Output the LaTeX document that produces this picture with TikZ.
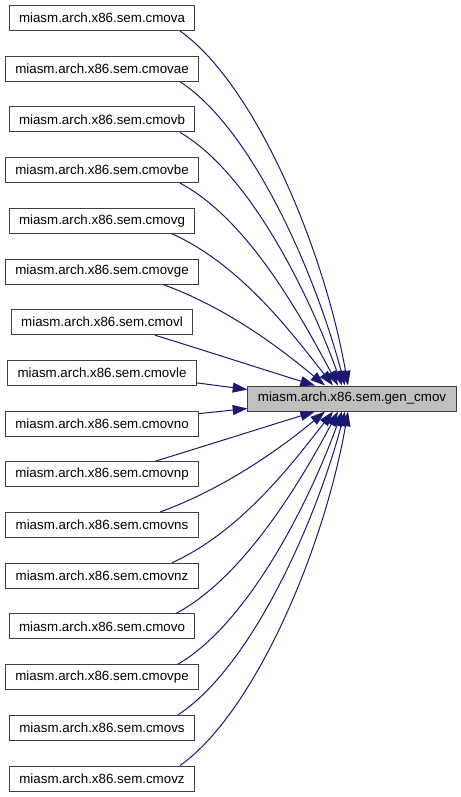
\documentclass[tikz,border=0pt]{standalone}
\usepackage{fontspec}
\setmainfont{Liberation Sans}
\usetikzlibrary{arrows.meta,calc}
\definecolor{edgeblue}{RGB}{25,25,112}
\definecolor{nodegray}{RGB}{191,191,191}
\begin{document}
\begin{tikzpicture}[x=0.75pt,y=-0.75pt,
  fn/.style={draw=black!75,line width=0.75pt,minimum height=18.75pt,inner xsep=7.5pt,inner ysep=0pt},
  root/.style={fn,fill=nodegray},
  call/.style={draw=edgeblue,line width=0.75pt,-{Triangle[length=11pt,width=7.5pt]}}]
\useasboundingbox (0,0) rectangle (461,797);
% Parameters
\def\colX{102};

% Callee
\node[root] (gencmov) at (352,398.5) {miasm.arch.x86.sem.gen\_cmov};

% Callers
\node[fn] (cmova) at (\colX,18) {miasm.arch.x86.sem.cmova};
\node[fn] (cmovae) at (\colX,68.7) {miasm.arch.x86.sem.cmovae};
\node[fn] (cmovb) at (\colX,119.4) {miasm.arch.x86.sem.cmovb};
\node[fn] (cmovbe) at (\colX,170.1) {miasm.arch.x86.sem.cmovbe};
\node[fn] (cmovg) at (\colX,220.8) {miasm.arch.x86.sem.cmovg};
\node[fn] (cmovge) at (\colX,271.5) {miasm.arch.x86.sem.cmovge};
\node[fn] (cmovl) at (\colX,322.2) {miasm.arch.x86.sem.cmovl};
\node[fn] (cmovle) at (\colX,372.9) {miasm.arch.x86.sem.cmovle};
\node[fn] (cmovno) at (\colX,423.6) {miasm.arch.x86.sem.cmovno};
\node[fn] (cmovnp) at (\colX,474.3) {miasm.arch.x86.sem.cmovnp};
\node[fn] (cmovns) at (\colX,525) {miasm.arch.x86.sem.cmovns};
\node[fn] (cmovnz) at (\colX,575.7) {miasm.arch.x86.sem.cmovnz};
\node[fn] (cmovo) at (\colX,626.4) {miasm.arch.x86.sem.cmovo};
\node[fn] (cmovpe) at (\colX,677.1) {miasm.arch.x86.sem.cmovpe};
\node[fn] (cmovs) at (\colX,727.8) {miasm.arch.x86.sem.cmovs};
\node[fn] (cmovz) at (\colX,778.5) {miasm.arch.x86.sem.cmovz};

% Calls from above
\draw[call] ($(cmova.south)+(78,0)$) .. controls +(74,52) and +(-24,-138) .. ($(gencmov.north)+(-4,0)$);
\draw[call] ($(cmovae.south)+(78,0)$) .. controls +(71,46) and +(-31,-116) .. ($(gencmov.north)+(-7,0)$);
\draw[call] ($(cmovb.south)+(78,0)$) .. controls +(69,40) and +(-34,-94) .. ($(gencmov.north)+(-10,0)$);
\draw[call] ($(cmovbe.south)+(78,0)$) .. controls +(66,35) and +(-40,-75) .. ($(gencmov.north)+(-14,0)$);
\draw[call] ($(cmovg.south)+(70,0)$) .. controls +(69,31) and +(-40,-51) .. ($(gencmov.north)+(-19,0)$);
\draw[call] ($(cmovge.south)+(61,0)$) .. controls +(66,24) and +(-42,-35) .. ($(gencmov.north)+(-27,0)$);
\draw[call] ($(cmovl.south)+(53,0)$) .. controls +(55,17) and +(-55,-17) .. ($(gencmov.north)+(-37,0)$);

% Calls from the side
\draw[call] ($(cmovle.east)+(0,10)$) -- ($(gencmov.west)+(0,-9)$);
\draw[call] ($(cmovno.east)+(0,-10)$) -- ($(gencmov.west)+(0,10)$);

% Calls from below
\draw[call] ($(cmovnp.north)+(53,0)$) .. controls +(55,-17) and +(-55,17) .. ($(gencmov.south)+(-37,0)$);
\draw[call] ($(cmovns.north)+(58,0)$) .. controls +(66,-24) and +(-42,35) .. ($(gencmov.south)+(-27,0)$);
\draw[call] ($(cmovnz.north)+(70,0)$) .. controls +(69,-31) and +(-40,51) .. ($(gencmov.south)+(-19,0)$);
\draw[call] ($(cmovo.north)+(74,0)$) .. controls +(66,-35) and +(-40,75) .. ($(gencmov.south)+(-14,0)$);
\draw[call] ($(cmovpe.north)+(76,0)$) .. controls +(69,-40) and +(-34,94) .. ($(gencmov.south)+(-10,0)$);
\draw[call] ($(cmovs.north)+(76,0)$) .. controls +(71,-46) and +(-31,116) .. ($(gencmov.south)+(-7,0)$);
\draw[call] ($(cmovz.north)+(78,0)$) .. controls +(74,-52) and +(-24,138) .. ($(gencmov.south)+(-4,0)$);
\end{tikzpicture}
\end{document}
